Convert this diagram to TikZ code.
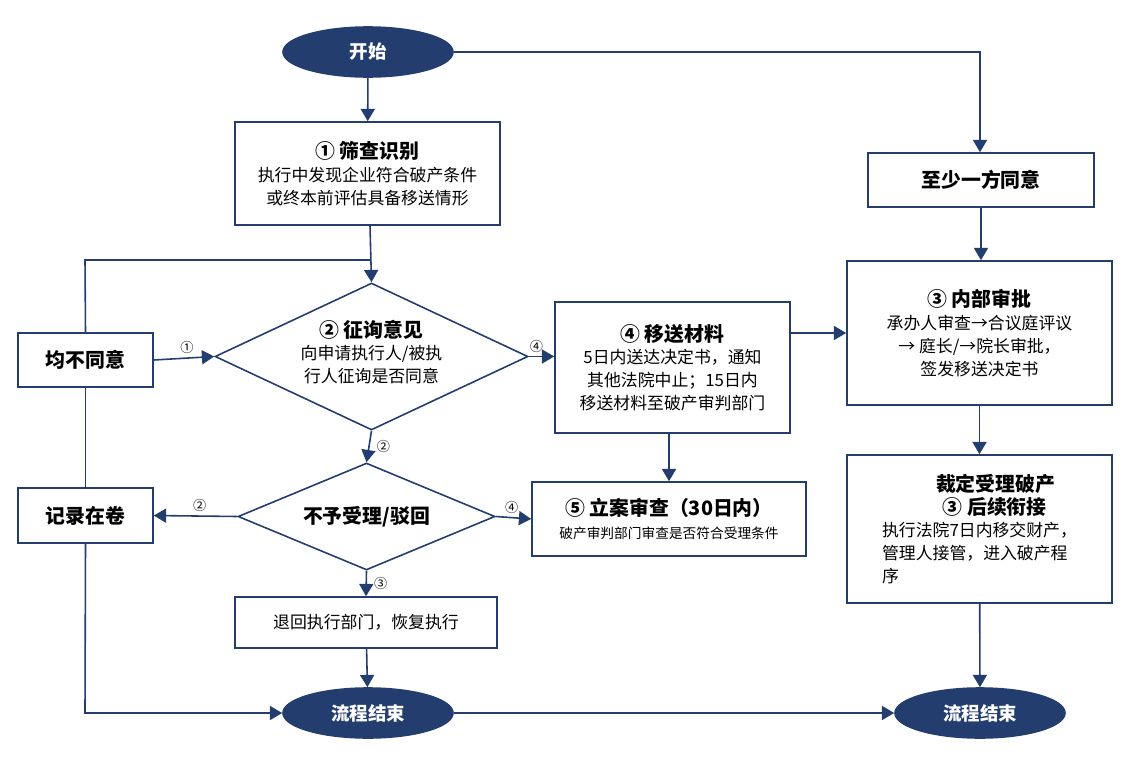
\documentclass[tikz,border=0pt]{standalone}
\usepackage{fontspec}
\setmainfont{Noto Sans CJK SC}
\usetikzlibrary{shapes.geometric,arrows.meta}
\definecolor{navy}{HTML}{233D6E}
\begin{document}
\begin{tikzpicture}[
		x=0.02cm, y=-0.02cm,
		line width=0.9pt,
		every node/.style={draw=navy, inner sep=0pt, font=\fontsize{9.6}{13}\selectfont},
		term/.style={ellipse, fill=navy, minimum width=170*0.02cm, minimum height=50*0.02cm, text=white, font=\fontsize{10.5}{13}\selectfont\bfseries},
		stage/.style={rectangle, align=center},
		ask/.style={diamond, align=center},
		tag/.style={draw=none, font=\fontsize{7.5}{9}\selectfont},
		flow/.style={draw=navy, -{Triangle[length=7pt, width=8pt]}},
		wire/.style={draw=navy}
	]
  \fill[white] (0,0) rectangle (1147,768);
  \node (start) [term] at (368,52) {开始};
  \node (screen) [stage, minimum width=265*0.02cm, minimum height=103*0.02cm] at (367.5,173.5)
    {{\fontsize{11.3}{15}\selectfont\bfseries ① 筛查识别}\\执行中发现企业符合破产条件\\或终本前评估具备移送情形};
  \node (consult) [ask, minimum width=313*0.02cm, minimum height=147*0.02cm, inner sep=0pt] at (371.5,356.5) {};
  \node (consult_text) [draw=none, align=center] at (371.5,352)
    {{\fontsize{11.3}{15}\selectfont\bfseries ② 征询意见}\\向申请执行人/被执\\行人征询是否同意};
  \node (refuse) [stage, minimum width=135*0.02cm, minimum height=54*0.02cm, font=\fontsize{11.3}{15}\selectfont\bfseries] at (85.5,360) {均不同意};
  \node (reject) [ask, minimum width=257*0.02cm, minimum height=107*0.02cm] at (366.5,516.5) {};
  \node (reject_text) [draw=none, font=\fontsize{11.3}{15}\selectfont\bfseries] at (366.5,516.5) {不予受理/驳回};
  \node (record) [stage, minimum width=135*0.02cm, minimum height=55*0.02cm, font=\fontsize{11.3}{15}\selectfont\bfseries] at (85.5,515.5) {记录在卷};
  \node (resume) [stage, minimum width=262*0.02cm, minimum height=51*0.02cm] at (366,622.5) {退回执行部门，恢复执行};
  \node (end_l) [term] at (368,713) {流程结束};
  \node (transfer) [stage, minimum width=235*0.02cm, minimum height=131*0.02cm] at (672.5,367.5)
    {{\fontsize{11.3}{15}\selectfont\bfseries ④ 移送材料}\\5日内送达决定书，通知\\其他法院中止；15日内\\移送材料至破产审判部门};
  \node (review) [stage, minimum width=274*0.02cm, minimum height=74*0.02cm] at (669,519)
    {{\fontsize{11.3}{15}\selectfont\bfseries ⑤ 立案审查（30日内）}\\{\fontsize{7.8}{11}\selectfont 破产审判部门审查是否符合受理条件}};
  \node (agree) [stage, minimum width=226*0.02cm, minimum height=54*0.02cm, font=\fontsize{11.3}{15}\selectfont\bfseries] at (981,180) {至少一方同意};
  \node (approve) [stage, minimum width=265*0.02cm, minimum height=144*0.02cm] at (979.5,333)
    {{\fontsize{11.3}{15}\selectfont\bfseries ③ 内部审批}\\承办人审查→合议庭评议\\→ 庭长/→院长审批，\\签发移送决定书};
  \node (accept) [stage, minimum width=265*0.02cm, minimum height=148*0.02cm, align=left] at (979.5,529)
    {\hspace*{3.2em}{\fontsize{11.3}{15}\selectfont\bfseries 裁定受理破产}\\\hspace*{3.6em}{\fontsize{11.3}{15}\selectfont\bfseries ③ 后续衔接}\\执行法院7日内移交财产，\\管理人接管，进入破产程\\序};
  \node (end_r) [term] at (980,713) {流程结束};
  \coordinate (join) at (370,260);
  \coordinate (corner_r) at (980,52);
  \coordinate (loop_l) at (85,260);
  \coordinate (foot_l) at (85,713);
  % main column
  \draw[flow] (start) -- (screen);
  \draw[flow] (screen.south -| join) -- (consult.north);
  \draw[wire] (refuse.north) -- (loop_l) -- (join);
  \draw[flow] (refuse.east) -- node[tag, above, pos=0.55, yshift=2pt] {①} (consult.west);
  \draw[flow] (consult.south) -- node[tag, right, xshift=4pt] {②} (reject.north);
  \draw[flow] (reject.west) -- node[tag, above, pos=0.45, yshift=2pt] {②} (record.east);
  \draw[flow] (reject.east) -- node[tag, above, pos=0.45, yshift=2pt] {④} (review.west);
  \draw[flow] (reject.south) -- node[tag, right, xshift=4pt] {③} (resume.north);
  \draw[flow] (resume) -- (end_l);
  \draw[wire] (record.north) -- (refuse.south);
  \draw[flow] (record.south) -- (foot_l) -- (end_l.west);
  \draw[flow] (consult.east) -- node[tag, above, pos=0.3, yshift=2pt] {④} (consult.east -| transfer.west);
  \draw[flow] (transfer.south -| review.north) -- (review.north);
  \draw[flow] (transfer.east |- approve.west) -- (approve.west);
  % right column
  \draw[flow] (start.east) -- (corner_r) -- (agree.north -| corner_r);
  \draw[flow] (agree) -- (agree |- approve.north);
  \draw[flow] (approve) -- (accept);
  \draw[flow] (accept) -- (end_r);
  \draw[flow] (end_l) -- (end_r);
\end{tikzpicture}
\end{document}
